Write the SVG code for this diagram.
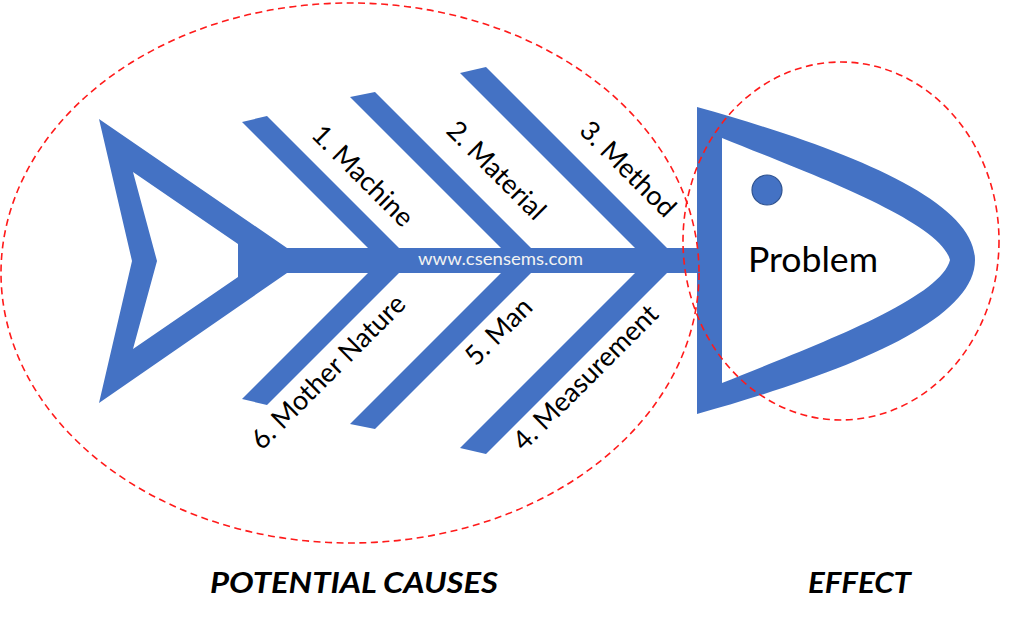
<svg xmlns="http://www.w3.org/2000/svg" width="1024" height="626" viewBox="0 0 1024 626">
  <style>
    .blue { fill: #4472C4; }
    .lbl { font-family: Lato, "Noto Sans", sans-serif; font-size: 27px; fill: #000; }
    .big { font-family: Lato, "Noto Sans", sans-serif; font-size: 29px; font-weight: bold; font-style: italic; fill: #000; }
    .dash { fill: none; stroke: #FF1A1A; stroke-width: 1.6; stroke-dasharray: 7 4.5; }
  </style>
  <rect width="1024" height="626" fill="#fff"/>

  <g id="connectors">
    <rect id="spine" class="blue" x="238" y="248" width="464" height="25"/>
    <polygon id="bone1" class="blue" points="242,122 267,116 411,260 380,260"/>
    <polygon id="bone2" class="blue" points="350,97 375,92 543,260 513,260"/>
    <polygon id="bone3" class="blue" points="460,73 486,67 679,260 647,260"/>
    <polygon id="bone6" class="blue" points="242,399 267,405 411,261 380,261"/>
    <polygon id="bone5" class="blue" points="350,424 375,429 543,261 513,261"/>
    <polygon id="bone4" class="blue" points="460,448 486,454 679,261 647,261"/>
  </g>

  <g id="tail">
    <path class="blue" fill-rule="evenodd" d="M99,119 L287,248 L287,273 L99,403 L132,261 Z M133,172 L238,244 L238,277 L133,349 L157,261 Z"/>
  </g>

  <g id="head">
    <path class="blue" fill-rule="evenodd" d="M697,107 C847,149 975,200 975,260 C975,321 847,372 697,414 Z M722,138 C800,170 940,220 950,260 C940,301 800,351 722,383 Z"/>
    <circle cx="767" cy="190" r="15" fill="#4472C4" stroke="#2F528F" stroke-width="1.2"/>
    <text x="748" y="272" font-family="Lato, 'Noto Sans', sans-serif" font-size="35" fill="#000" textLength="130" lengthAdjust="spacingAndGlyphs">Problem</text>
  </g>

  <g id="website">
    <text x="418" y="265" font-family="Lato, 'Noto Sans', sans-serif" font-size="17" fill="#F2F2F2" textLength="165" lengthAdjust="spacingAndGlyphs">www.csensems.com</text>
  </g>

  <g id="labels">
    <text class="lbl" transform="translate(310,136) rotate(45)">1. Machine</text>
    <text class="lbl" transform="translate(445,132) rotate(45)">2. Material</text>
    <text class="lbl" transform="translate(578,132) rotate(45)">3. Method</text>
    <text class="lbl" transform="translate(262,451) rotate(-45)">6. Mother Nature</text>
    <text class="lbl" transform="translate(476,367) rotate(-45)">5. Man</text>
    <text class="lbl" transform="translate(524,452) rotate(-45)">4. Measurement</text>
  </g>

  <g id="causes-region">
    <ellipse class="dash" cx="350" cy="273" rx="349" ry="270"/>
  </g>
  <g id="effect-region">
    <ellipse class="dash" cx="841" cy="241" rx="158" ry="179"/>
  </g>

  <g id="captions">
    <text class="big" x="210" y="593" textLength="288" lengthAdjust="spacingAndGlyphs">POTENTIAL CAUSES</text>
    <text class="big" x="808" y="593" textLength="103" lengthAdjust="spacingAndGlyphs">EFFECT</text>
  </g>
</svg>
